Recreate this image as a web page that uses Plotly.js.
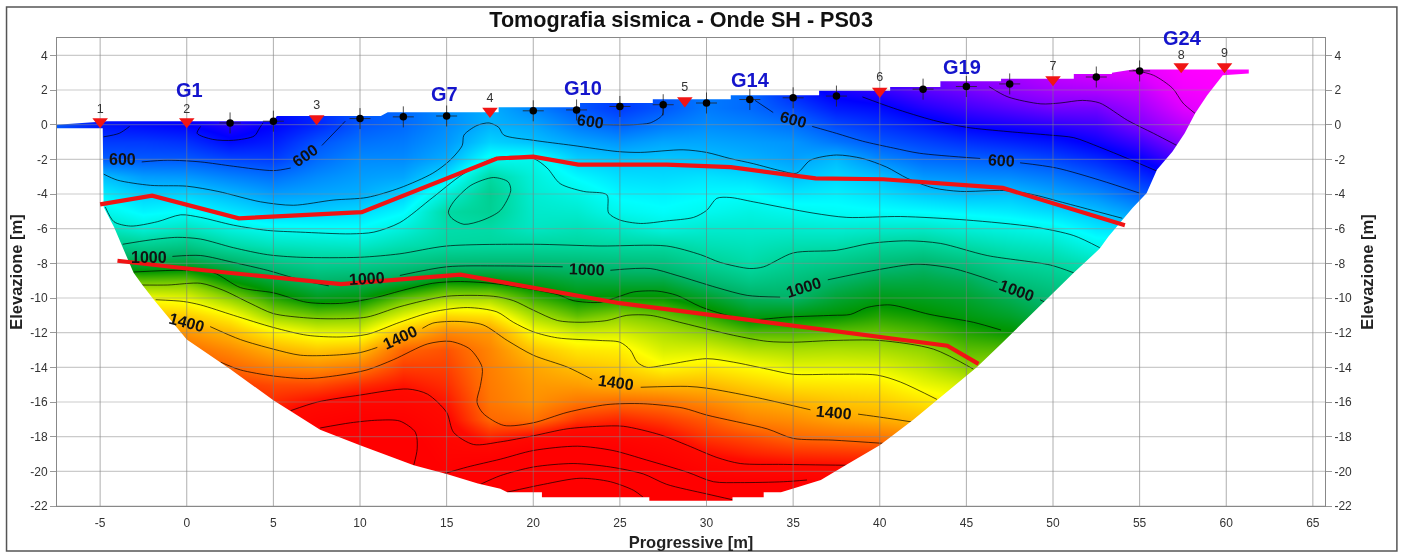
<!DOCTYPE html>
<html><head><meta charset="utf-8">
<script src="https://cdn.plot.ly/plotly-3.0.1.min.js"></script>
<style>html,body{margin:0;padding:0;background:#fff;overflow:hidden}#chart{width:1401px;height:552px;filter:blur(0.45px)}</style>
</head><body><div id="chart"></div>
<script>
const titleText = "Tomografia sismica - Onde SH - PS03";
const xTicks = [-5,0,5,10,15,20,25,30,35,40,45,50,55,60,65];
const yTicks = [-22,-20,-18,-16,-14,-12,-10,-8,-6,-4,-2,0,2,4];
const xRange = [-7.49,65.7];
const yRange = [-22,5];

// velocity field, one list per column, rows top to bottom
const gridY = [4,3,2,1,0,-1,-2,-3,-4,-5,-6,-7,-8,-9,-10,-11,-12,-13,-14,-15,-16,-17,-18,-19,-20,-21,-22];
const gridX = [-7.5,-5,-2.5,0,2.5,5,7.5,10,12.5,15,17.5,20,22.5,25,27.5,30,32.5,35,37.5,40,42.5,45,47.5,50,52.5,55,57.5,60,62.5];
const colA = [590,590,590,590,590,590,600,710,765,810,870,945,1060,1190,1290,1380,1450,1500,1550,1600,1620,1650,1650,1700,1700,1750,1750];
const colB = [510,510,510,510,520,560,600,710,765,810,870,945,1060,1190,1290,1380,1450,1500,1550,1600,1620,1650,1650,1700,1700,1750,1750];
const colC = [500,500,500,500,510,560,595,670,725,770,830,930,1045,1170,1290,1380,1450,1500,1550,1600,1620,1650,1650,1700,1700,1750,1750];
const colD = [500,500,500,500,500,550,595,665,730,785,860,950,1055,1175,1275,1365,1435,1490,1530,1570,1600,1640,1650,1700,1700,1750,1750];
const colE = [480,480,480,480,470,510,575,640,700,755,820,895,1010,1100,1200,1310,1390,1450,1500,1550,1580,1620,1650,1700,1700,1750,1750];
const colF = [510,510,510,510,500,530,565,620,670,725,795,865,955,1045,1125,1210,1320,1400,1465,1530,1565,1600,1640,1690,1700,1750,1750];
const colG = [540,540,540,540,540,585,615,650,680,725,790,855,925,995,1075,1180,1280,1370,1450,1530,1600,1665,1720,1750,1750,1750,1750];
const colH = [590,590,590,590,590,620,650,670,690,740,785,850,930,1010,1090,1190,1280,1385,1475,1560,1630,1695,1730,1750,1750,1750,1750];
const colI = [610,610,610,610,610,630,650,680,725,775,825,880,950,1040,1165,1275,1390,1500,1545,1590,1630,1685,1730,1750,1760,1760,1760];
const colJ = [650,650,650,650,650,665,690,750,830,895,885,900,980,1095,1215,1350,1455,1520,1540,1560,1585,1610,1640,1665,1695,1750,1780];
const colK = [690,690,690,690,695,730,800,895,925,920,890,905,985,1090,1215,1335,1430,1455,1465,1470,1475,1495,1570,1660,1760,1850,1900];
const colL = [640,640,640,640,680,710,805,825,835,845,855,905,985,1065,1140,1225,1305,1375,1415,1430,1440,1480,1605,1725,1825,1925,1950];
const colM = [590,590,590,590,630,680,730,775,810,840,870,905,980,1040,1095,1170,1260,1330,1380,1425,1475,1550,1650,1745,1850,1960,2000];
const colN = [560,560,560,560,600,660,715,745,770,800,850,900,970,1035,1105,1200,1265,1320,1360,1400,1490,1570,1640,1715,1800,1930,1950];
const colO = [590,590,590,590,630,680,720,740,765,785,820,900,965,1035,1105,1175,1230,1265,1310,1390,1480,1545,1605,1665,1730,1830,1900];
const colP = [630,630,630,630,650,680,710,750,775,800,840,875,920,985,1060,1135,1200,1265,1330,1390,1450,1510,1550,1600,1660,1770,1850];
const colQ = [610,610,610,610,640,670,695,740,780,815,840,865,890,945,1010,1080,1160,1235,1305,1360,1415,1460,1525,1575,1640,1760,1800];
const colR = [530,530,530,575,620,660,675,710,755,800,840,880,925,965,1000,1090,1160,1225,1280,1335,1395,1445,1495,1560,1630,1750,1800];
const colS = [480,480,480,525,575,625,705,735,765,790,835,885,945,1000,1050,1100,1170,1230,1280,1330,1375,1420,1485,1555,1625,1700,1800];
const colT = [460,460,460,510,550,590,650,710,745,785,845,910,975,1030,1080,1125,1175,1225,1275,1325,1365,1405,1475,1550,1620,1700,1800];
const colU = [430,430,430,475,525,570,615,665,720,780,850,920,995,1035,1070,1110,1155,1205,1245,1285,1335,1385,1450,1500,1500,1500,1500];
const colV = [370,370,410,450,495,550,605,655,705,770,830,890,965,1020,1055,1085,1125,1165,1200,1260,1300,1340,1380,1400,1400,1400,1400];
const colW = [360,360,385,430,480,535,595,650,710,760,815,865,915,970,1020,1060,1105,1160,1220,1260,1300,1300,1300,1300,1300,1300,1300];
const colX = [330,330,360,410,465,520,575,630,680,740,800,850,900,940,980,1020,1060,1100,1140,1180,1200,1200,1200,1200,1200,1200,1200];
const colY = [310,310,350,410,450,490,545,595,650,710,755,805,865,920,970,1020,1060,1100,1140,1180,1200,1200,1200,1200,1200,1200,1200];
const colZ = [300,300,330,365,400,450,500,550,600,665,735,800,860,920,970,1020,1060,1100,1140,1180,1200,1200,1200,1200,1200,1200,1200];
const colAA = [255,255,270,300,340,390,440,500,560,620,680,740,800,860,920,970,1020,1060,1100,1140,1180,1200,1200,1200,1200,1200,1200];
const colAB = [250,250,250,265,300,350,400,450,500,560,620,680,740,800,860,920,970,1020,1060,1100,1140,1180,1200,1200,1200,1200,1200];
const colAC = [250,250,250,250,280,330,380,430,480,540,600,660,720,780,840,900,960,1020,1060,1100,1140,1180,1200,1200,1200,1200,1200];
const gridColumns = [colA,colB,colC,colD,colE,colF,colG,colH,colI,colJ,colK,colL,colM,colN,colO,colP,colQ,colR,colS,colT,colU,colV,colW,colX,colY,colZ,colAA,colAB,colAC];
const gridZ = gridY.map((_, r) => gridColumns.map(c => c[r]));

const scaleLevels = [250,300,400,500,600,700,780,900,1000,1100,1200,1300,1400,1500,1600,1700];
const scaleColors = ["#ff00ff","#e000ff","#8000ff","#0000ff","#0060ff","#00b8ff","#00ffff","#00d8a0","#00b468","#009600","#8ed400","#ffff00","#ffb000","#ff6400","#ff0a00","#ff0000"];

// outline of the investigated section
const outlineX = [-7.49,65.7,65.7,-7.49,-7.49,-7.49,-7.49,-4.85,-4.8,-4.2,-3.7,-3.07,-2.56,-1.9,0,2.5,5,7.7,10,13.1,15,16.8,18.1,18.5,20.5,20.5,26.7,26.7,31.5,31.5,33.3,33.3,34.3,35,36.6,38.1,40,41.9,43.3,45.6,47,51.2,52.7,53.2,54.6,55.4,56,56.9,57.6,58.2,58.9,59.8,61.3,61.3,55,54.6,53.4,53.4,51.2,51.2,47,47,43.5,43.5,40.6,40.6,36.5,36.5,31.4,31.4,26.9,26.9,22.7,22.7,18,18,11.6,11.2,5.2,5,-4.6,-7.49,-7.49];
const outlineY = [5,5,-22,-22,5,0,-0.2,-0.2,-4.75,-5.9,-7.06,-8.55,-9.25,-10.1,-12.4,-14.1,-15.9,-17.6,-18.5,-19.65,-20.15,-20.7,-21,-21.2,-21.2,-21.5,-21.5,-21.7,-21.7,-21.5,-21.5,-21.2,-21.2,-21,-20.5,-19.6,-18.5,-17.05,-15.9,-14,-12.65,-8.55,-7.15,-6.45,-4.8,-3.95,-2.6,-1.55,-0.5,0.65,1.7,2.85,2.95,3.18,3.18,3.18,3.0,2.93,2.93,2.65,2.65,2.5,2.5,2.18,2.18,1.95,1.95,1.7,1.7,1.47,1.47,1.25,1.25,1.0,1.0,0.72,0.72,0.5,0.5,0.2,0.2,0,0,5];

// contour lines, level by level (null separates pieces)
const c300x = [54.6,55.8,56.9,57.5,58.2];
const c300y = [3.15,2.85,2.1,1.25,0.65];
const c400x = [46.3,47.4,49.3,50.4,51.7,52.7,54.3,55.8,57.15];
const c400y = [2.2,1.6,1.2,1.25,1.4,1.25,0.25,-0.5,-1.2];
const c500x = [-4.8,-3.9,-3.3,null,0.8,0.6,1.5,2.7,3.9,4.2,4.4,null,39,40.8,43.1,45,47.4,49.8,51.2,52.7,54.3,56.05];
const c500y = [-0.7,-0.5,-0.1,null,-0.1,-0.5,-0.85,-0.9,-0.65,-0.2,0.1,null,1.6,0.95,0.25,-0.15,-0.4,-0.6,-0.75,-1.3,-1.95,-2.7];
const c600x = [-2.6,-1.1,0.8,2.7,5,6,null,7.8,9.15,null,24,25.8,26.75,27.45,27.5,null,32.8,33.85,null,36.1,37.5,39,40.8,42.3,45.8,null,48.1,50.2,52.7,55];
const c600y = [-2.15,-2.05,-2.15,-2.4,-2.65,-2.5,null,-1.2,0.2,null,0,0,0.1,0.55,1,null,1.4,0.7,null,-0.1,-0.5,-0.95,-1.35,-1.65,-1.95,null,-2.2,-2.5,-3.2,-3.95];
const c700x = [-4.8,-4,-2.1,0,1.8,4.25,6.15,8.45,10.4,12.3,14.2,15.2,15.9,16,16.75,17.45,18,18.3,20,22.3,24.85,26.2,28.65,30,31.35,32.7,34.25,35.2,36,37.5,39,40.4,41.6,43.1,44.65,47.15,48.7,50.8,54];
const c700y = [-2.85,-3.2,-3.5,-3.55,-3.85,-4.45,-4.65,-4.35,-4.2,-3.65,-2.8,-2.05,-1.2,-0.6,-0.05,0.1,-0.15,-0.6,-0.9,-1.2,-1.55,-1.6,-1.45,-1.6,-1.95,-2.25,-2.65,-2.8,-2.05,-1.75,-1.95,-2.45,-3.1,-3.65,-3.85,-3.8,-4,-4.55,-5.4];
const c800x = [-4.7,-4.2,-3.25,-1.7,-0.35,0.8,2.7,4.65,6.55,9.45,10.8,12.3,14.2,15.95,17.9,20,20.8,21.55,22.9,24.25,24.35,25,26.2,27.7,29.25,30,30.6,31.35,32.7,36.15,38.1,41.2,45,48.9,51.2,52.7,null,15.1,15.4,16.4,17.7,18.55,18.7,18.1,17.1,16,15.3,15.1];
const c800y = [-4.75,-5.6,-5.85,-5.6,-5.2,-5.35,-5.8,-6.1,-6.2,-6.3,-6.2,-5.65,-4.2,-2.85,-1.9,-1.95,-2.5,-3.4,-3.85,-4.05,-5.1,-5.5,-5.7,-5.55,-5.35,-4.95,-4.25,-4.2,-4.45,-5.1,-5.35,-5.3,-5.5,-5.9,-6.4,-7.1,null,-5.05,-4.45,-3.5,-3.05,-3.3,-3.8,-4.95,-5.5,-5.75,-5.4,-5.05];
const c900x = [-3.7,-2.1,-0.55,0.8,2.7,4.65,6.55,10,12.3,15,20,23.85,27.7,29.65,30.8,32.5,33.3,35,37.5,39.45,41.6,43.5,46.2,49.85,51.2];
const c900y = [-6.9,-6.65,-6.5,-6.6,-7.1,-7.5,-7.65,-7.65,-7.45,-7,-6.9,-7,-7,-7.5,-7.95,-8.3,-8.2,-7.4,-7.25,-6.85,-6.7,-6.85,-7.55,-8.1,-8.55];
const c1000x = [-0.83,0.8,2.7,4.65,6.55,8.2,null,12.3,15,18.1,21.7,null,24.45,26.75,28.3,30.6,32.35,34.25,null,37,40,42.15,44.25,46.8,null,49.25,49.85];
const c1000y = [-7.6,-7.55,-7.95,-8.4,-8.95,-9.3,null,-8.7,-8.2,-8.15,-8.2,null,-8.4,-8.3,-8.7,-9.4,-9.85,-9.95,null,-8.95,-8.35,-8.05,-8.3,-9.1,null,-10.1,-10.4];
const c1100x = [-3.05,-0.2,1.55,3.1,5,6.95,9.05,11,12.3,14.2,15.8,18,21.4,22.3,23.85,24.85,25.8,27.15,28.3,29.65,31.2,32.55,34.65,37.3,38.3,39.25,40.6,42.9,45.4,47];
const c1100y = [-8.5,-8.4,-8.55,-9.4,-9.7,-10.25,-10.3,-9.95,-9.6,-9.15,-9.05,-9.2,-9.8,-10.15,-10.25,-9.95,-9.65,-9.6,-9.85,-10.5,-11,-11.25,-11.1,-11,-10.95,-10.55,-10.4,-10.95,-11.4,-11.85];
const c1200x = [-2.65,-1.1,0.8,2.1,3.65,5,6.95,8.45,10.4,12.3,15,17.7,18.85,20,21.4,22.7,24.25,25.4,26.75,28.65,31.55,33.5,35,37.3,40,43.1,45.4];
const c1200y = [-9.25,-9.25,-9.15,-9.55,-10.3,-10.9,-11.15,-11.2,-11.1,-10.5,-9.9,-9.9,-10.15,-10.7,-11.3,-11.4,-11.3,-11,-11,-11.45,-12.15,-12.5,-12.55,-12.45,-12.45,-12.95,-14.1];
const c1300x = [-1.8,-0.2,0.8,2.7,5,6.95,8.85,10.4,12.3,14.2,16.2,17.9,18.85,20,21.4,23.85,25,25.6,26,26.55,27.7,30,31.55,33.5,35,37.3,39.85,41.2,43.3];
const c1300y = [-10.1,-10.2,-10.4,-11,-11.7,-12.15,-12.25,-12.1,-11.4,-10.8,-10.55,-10.8,-11.4,-11.95,-12.3,-12.45,-12.55,-13,-13.7,-14,-13.85,-13.5,-13.7,-14.1,-14.4,-14.4,-14.45,-14.85,-15.85];
const c1400x = [1.35,3.1,5,6.55,8.45,10,11,null,13.6,14.2,15.6,17.1,18.5,20,22,23.4,null,26.2,28.9,30,32.7,36,null,38.75,40.2,41.85];
const c1400y = [-11.65,-12.4,-12.95,-13.3,-13.3,-13.15,-12.85,null,-11.75,-11.45,-11.35,-11.55,-12.45,-13.3,-14,-14.7,null,-15.15,-15.1,-15.2,-15.7,-16.45,null,-16.7,-16.9,-17.15];
const c1500x = [1.95,3.1,5,6.95,8.85,10.4,11.95,13.9,15.2,16.35,17.05,16.95,16.75,17.1,18.3,20,21.95,24.25,26.35,28.65,30,33.5,35,37.3,40.4];
const c1500y = [-13.7,-14.15,-14.5,-14.65,-14.45,-14.15,-13.55,-12.65,-12.5,-12.95,-14,-15.05,-16,-16.65,-17.35,-17.2,-16.6,-16.15,-16.1,-16.35,-16.75,-17.55,-18.1,-18.2,-18.4];
const c1600x = [6,7.55,10,12.75,13.9,15,15.4,16.55,18.1,20,21.95,23.85,25.2,27.35,28.9,30.6,31.95,34.45,38.1];
const c1600y = [-16.5,-16,-15.6,-15.25,-15.55,-16.6,-17.75,-18.45,-18.3,-17.95,-17.55,-17.4,-17.4,-17.9,-18.5,-19.2,-19.55,-19.6,-19.65];
const c1700x = [7.7,9.45,11,12.3,13.2,13.3,13.1,null,14.8,16.2,18.1,20,22.55,24.6,26.55,28.9,30.4,31.95,34.45,35.8];
const c1700y = [-17.5,-17.2,-17.05,-17.1,-17.75,-18.7,-19.65,null,-20.15,-19.75,-19.3,-18.8,-18.55,-18.8,-19.35,-20.05,-20.6,-20.65,-20.6,-20.5];
const c1800x = [16.95,18.1,20,22.3,24.45,26.35,27.7,30,31.55];
const c1800y = [-20.75,-20.25,-19.75,-19.55,-19.75,-20.15,-20.75,-21.3,-21.65];
const c1900x = [18.5,20.6,22.7,24.45,25.8,26.35];
const c1900y = [-21.2,-20.75,-20.4,-20.6,-21.1,-21.5];
const contourX = [c300x,c400x,c500x,c600x,c700x,c800x,c900x,c1000x,c1100x,c1200x,c1300x,c1400x,c1500x,c1600x,c1700x,c1800x,c1900x];
const contourY = [c300y,c400y,c500y,c600y,c700y,c800y,c900y,c1000y,c1100y,c1200y,c1300y,c1400y,c1500y,c1600y,c1700y,c1800y,c1900y];

// contour labels
const labelText = ["600","600","600","600","600","1000","1000","1000","1000","1000","1400","1400","1400","1400"];
const labelX = [-3.7,6.85,23.3,35,47,-2.2,10.4,23.1,35.6,47.9,0,12.3,24.75,37.35];
const labelY = [-2,-1.8,0.2,0.3,-2.05,-7.65,-8.85,-8.35,-9.4,-9.55,-11.4,-12.25,-14.9,-16.6];
const labelAngle = [0,-35,8,15,3,0,-3,2,-17,20,15,-25,8,5];

// interpreted horizons
const horizon1X = [-5,-2,3,10.1,17.9,20,22.6,27.7,31.4,36.3,40.2,47.1,54.15];
const horizon1Y = [-4.6,-4.1,-5.4,-5.05,-1.95,-1.85,-2.3,-2.3,-2.45,-3.1,-3.15,-3.65,-5.8];
const horizon2X = [-4,0,8.9,15.8,25,40,43.9,45.7];
const horizon2Y = [-7.85,-8.3,-9.2,-8.65,-10.3,-12.25,-12.75,-13.8];

// shots and geophones
const shotX = [-5,0,7.5,17.5,28.75,40,50,57.4,59.9];
const shotY = [0.18,0.18,0.35,0.78,1.38,1.93,2.6,3.35,3.35];
const shotText = ["1","2","3","4","5","6","7","8","9"];
const shotLabelY = [0.84,0.84,1.07,1.47,2.1,2.68,3.32,3.98,4.07];
const geoX = [2.5,5,10,12.5,15,20,22.5,25,27.5,30,32.5,35,37.5,42.5,45,47.5,52.5,55];
const geoY = [0.1,0.2,0.35,0.45,0.5,0.8,0.85,1.05,1.15,1.25,1.45,1.55,1.65,2.05,2.2,2.35,2.75,3.1];
const gText = ["G1","G7","G10","G14","G19","G24"];
const gX = [0.15,14.9,22.85,32.55,44.75,57.5];
const gY = [2.0,1.75,2.1,2.55,3.35,5.0];

const FONT = '"Liberation Sans", Arial, sans-serif';
const gMin = scaleLevels[0], gMax = scaleLevels[scaleLevels.length-1];
const colorscale = scaleLevels.map((v,i)=>[(v-gMin)/(gMax-gMin), scaleColors[i]]);

const traces = [];
traces.push({type:'heatmap',x:gridX,y:gridY,z:gridZ,zsmooth:'best',zmin:gMin,zmax:gMax,colorscale,showscale:false,hoverinfo:'skip'});
contourX.forEach((cx,i)=>traces.push({type:'scatter',mode:'lines',x:cx,y:contourY[i],line:{color:'rgba(0,0,0,0.85)',width:0.8,shape:'spline',smoothing:0.8},hoverinfo:'skip',showlegend:false}));
traces.push({type:'scatter',mode:'lines',x:outlineX,y:outlineY,fill:'toself',fillcolor:'#ffffff',line:{width:0},hoverinfo:'skip',showlegend:false});
const gx=[],gxy=[]; xTicks.forEach(t=>{gx.push(t,t,null);gxy.push(yRange[0],yRange[1],null);});
const gy=[],gyx=[]; yTicks.forEach(t=>{gy.push(t,t,null);gyx.push(xRange[0],xRange[1],null);});
traces.push({type:'scatter',mode:'lines',x:gx,y:gxy,line:{color:'rgba(120,120,120,0.6)',width:1},hoverinfo:'skip',showlegend:false});
traces.push({type:'scatter',mode:'lines',x:gyx,y:gy,line:{color:'rgba(140,140,140,0.45)',width:1.2},hoverinfo:'skip',showlegend:false});
[[horizon1X,horizon1Y],[horizon2X,horizon2Y]].forEach(h=>traces.push({type:'scatter',mode:'lines',x:h[0],y:h[1],line:{color:'#f01414',width:4.2},hoverinfo:'skip',showlegend:false}));
traces.push({type:'scatter',mode:'markers',x:geoX,y:geoY,marker:{symbol:'cross-thin',size:15,line:{color:'#222',width:0.8}},hoverinfo:'skip',showlegend:false});
traces.push({type:'scatter',mode:'markers',x:geoX,y:geoY,marker:{symbol:'circle',size:7.5,color:'#000'},hoverinfo:'skip',showlegend:false});
traces.push({type:'scatter',mode:'markers',x:shotX,y:shotY,yaxis:'y2',marker:{symbol:'triangle-down',size:13.5,color:'#f01414'},hoverinfo:'skip',showlegend:false,cliponaxis:false});
traces.push({type:'scatter',mode:'text',x:shotX,y:shotLabelY,yaxis:'y2',text:shotText,textposition:'middle center',textfont:{family:FONT,size:12.5,color:'#333'},hoverinfo:'skip',showlegend:false,cliponaxis:false});

const annotations = [];
labelText.forEach((t,i)=>annotations.push({x:labelX[i],y:labelY[i],xref:'x',yref:'y',text:t,textangle:labelAngle[i],showarrow:false,font:{family:FONT,size:16,color:'#111',weight:'bold'}}));
gText.forEach((t,i)=>annotations.push({x:gX[i],y:gY[i],xref:'x',yref:'y',text:t,showarrow:false,font:{family:FONT,size:20,color:'#1414cc',weight:'bold'}}));

const tickY = yTicks.map(String), tickX = xTicks.map(String);
const baseY = {range:yRange,tickmode:'array',tickvals:yTicks,ticktext:tickY,ticks:'outside',ticklen:6,tickcolor:'#999',tickwidth:1,showgrid:false,zeroline:false,showline:true,linecolor:'#888',linewidth:1,tickfont:{family:FONT,size:12,color:'#333'}};
const layout = {
  width:1401,height:552,paper_bgcolor:'#fff',plot_bgcolor:'#fff',showlegend:false,
  margin:{l:56.5,r:76,t:38,b:46,pad:0},
  title:{text:titleText,x:0.4922,xanchor:'center',xref:'paper',y:0.964,yanchor:'middle',yref:'container',font:{family:FONT,size:21.6,color:'#111',weight:'bold'}},
  xaxis:{range:xRange,tickmode:'array',tickvals:xTicks,ticktext:tickX,ticks:'outside',ticklen:6,tickcolor:'rgba(0,0,0,0)',showgrid:false,zeroline:false,showline:true,linecolor:'#888',linewidth:1,mirror:true,tickfont:{family:FONT,size:12,color:'#333'},
    title:{text:'Progressive [m]',standoff:7,font:{family:FONT,size:16.5,color:'#222',weight:'bold'}}},
  yaxis:Object.assign({},baseY,{title:{text:'Elevazione [m]',standoff:3,font:{family:FONT,size:16.5,color:'#222',weight:'bold'}}}),
  yaxis2:Object.assign({},baseY,{overlaying:'y',side:'right',title:{text:'Elevazione [m]',standoff:10,font:{family:FONT,size:16.5,color:'#222',weight:'bold'}}}),
  annotations,
  shapes:[{type:'rect',xref:'paper',yref:'paper',x0:-0.0398,x1:1.0567,y0:-0.0962,y1:1.0662,line:{color:'#555',width:1.5},fillcolor:'rgba(0,0,0,0)',layer:'below'}]
};
Plotly.newPlot('chart',traces,layout,{displayModeBar:false,staticPlot:true});
</script></body></html>
